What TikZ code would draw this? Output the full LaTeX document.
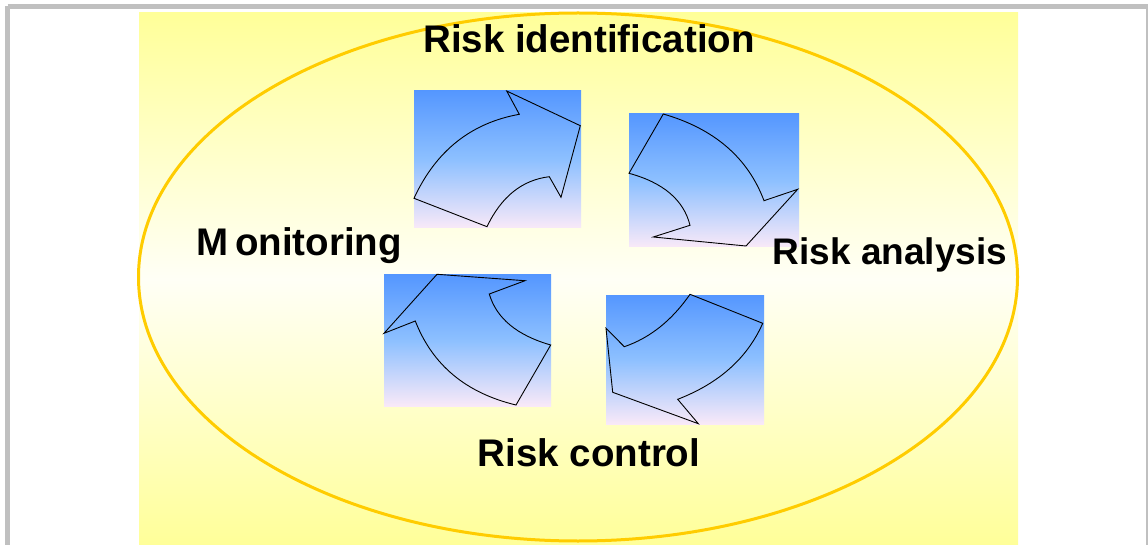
\documentclass[tikz,border=0pt]{standalone}
\usepackage{fontspec}
\setmainfont{Liberation Sans}
\definecolor{ygold}{HTML}{FFCC00}
\definecolor{ylight}{HTML}{FFFF99}
\definecolor{ywhite}{HTML}{FFFFF6}
\definecolor{btop}{HTML}{5597FF}
\definecolor{bmid}{HTML}{8DC0FF}
\definecolor{bbot}{HTML}{F9E9F8}
\definecolor{frame}{HTML}{C0C0C0}
\begin{document}
\begin{tikzpicture}[x=1pt,y=-1pt,
  bgbox/.style={inner sep=0pt, outer sep=0pt, draw=none, top color=ylight, bottom color=ylight, middle color=ywhite},
  gbox/.style={inner sep=0pt, outer sep=0pt, draw=none, top color=btop, bottom color=bbot, middle color=bmid},
  arrowline/.style={draw=black, line width=0.9pt, line join=miter},
  lbl/.style={inner sep=0pt, anchor=base, font=\fontsize{38.5}{40}\selectfont\bfseries}]
\useasboundingbox (0,0) rectangle (1148,545);
\fill[white] (0,0) rectangle (1148,545);
\draw[frame, line width=5pt] (7.5,6.5) -- (1147.5,6.5);
\draw[frame, line width=5pt] (7.5,6.5) -- (7.5,545);
\draw[frame, line width=5pt] (1148,6.5) -- (1148,545);
% background
\node[bgbox, minimum width=879pt, minimum height=532pt] (bg) at (578.5,279) {};
\draw[ygold, line width=3pt] (578,277) ellipse [x radius=439.5pt, y radius=264pt];
% gradient boxes
\node[gbox, minimum width=167pt, minimum height=137pt] (b1) at (497.5,159.5) {};
\node[gbox, minimum width=170pt, minimum height=133pt] (b2) at (714,180.5) {};
\node[gbox, minimum width=167pt, minimum height=131pt] (b3) at (467.5,340.5) {};
\node[gbox, minimum width=158pt, minimum height=129pt] (b4) at (685,359.5) {};
% arrows
\draw[arrowline] (506.7,91) -- (519.3,114.3) .. controls (470.9,123.0) and (435.8,151.0) .. (414,198.3) -- (487,226.7) .. controls (501.3,196.7) and (522.0,180.0) .. (549.3,176.7) -- (561,197.3) -- (580.3,125.7) -- cycle;
\draw[arrowline] (663.3,114) .. controls (714.2,128.7) and (747.8,157.6) .. (764,200.7) -- (797.7,189.3) -- (746,246) -- (653.3,237) -- (690,225.3) .. controls (683.7,200.0) and (663.3,182.6) .. (629,173.3) -- cycle;
\draw[arrowline] (437,274.3) -- (525,280.7) -- (489.3,294) .. controls (496.4,318.3) and (516.9,335.3) .. (550.7,345) -- (516,405) .. controls (466,393) and (432.4,365) .. (415.3,321) -- (384,333.3) -- cycle;
\draw[arrowline] (690,294.3) -- (762.7,323.3) .. controls (747.4,358.0) and (719.1,383.3) .. (677.7,399.3) -- (698.3,423.7) -- (612.7,392.3) -- (606,328.3) -- (624.3,346.7) .. controls (650.0,337.9) and (671.9,320.4) .. cycle;
% labels
\node[lbl] (t1) at (589,53) {Risk identification};
\node[lbl] (t2) at (299,256) {M\kern7pt onitoring};
\node[lbl, font=\fontsize{37}{40}\selectfont\bfseries] (t3) at (890,265) {Risk analysis};
\node[lbl] (t4) at (589,466) {Risk control};
\end{tikzpicture}
\end{document}
